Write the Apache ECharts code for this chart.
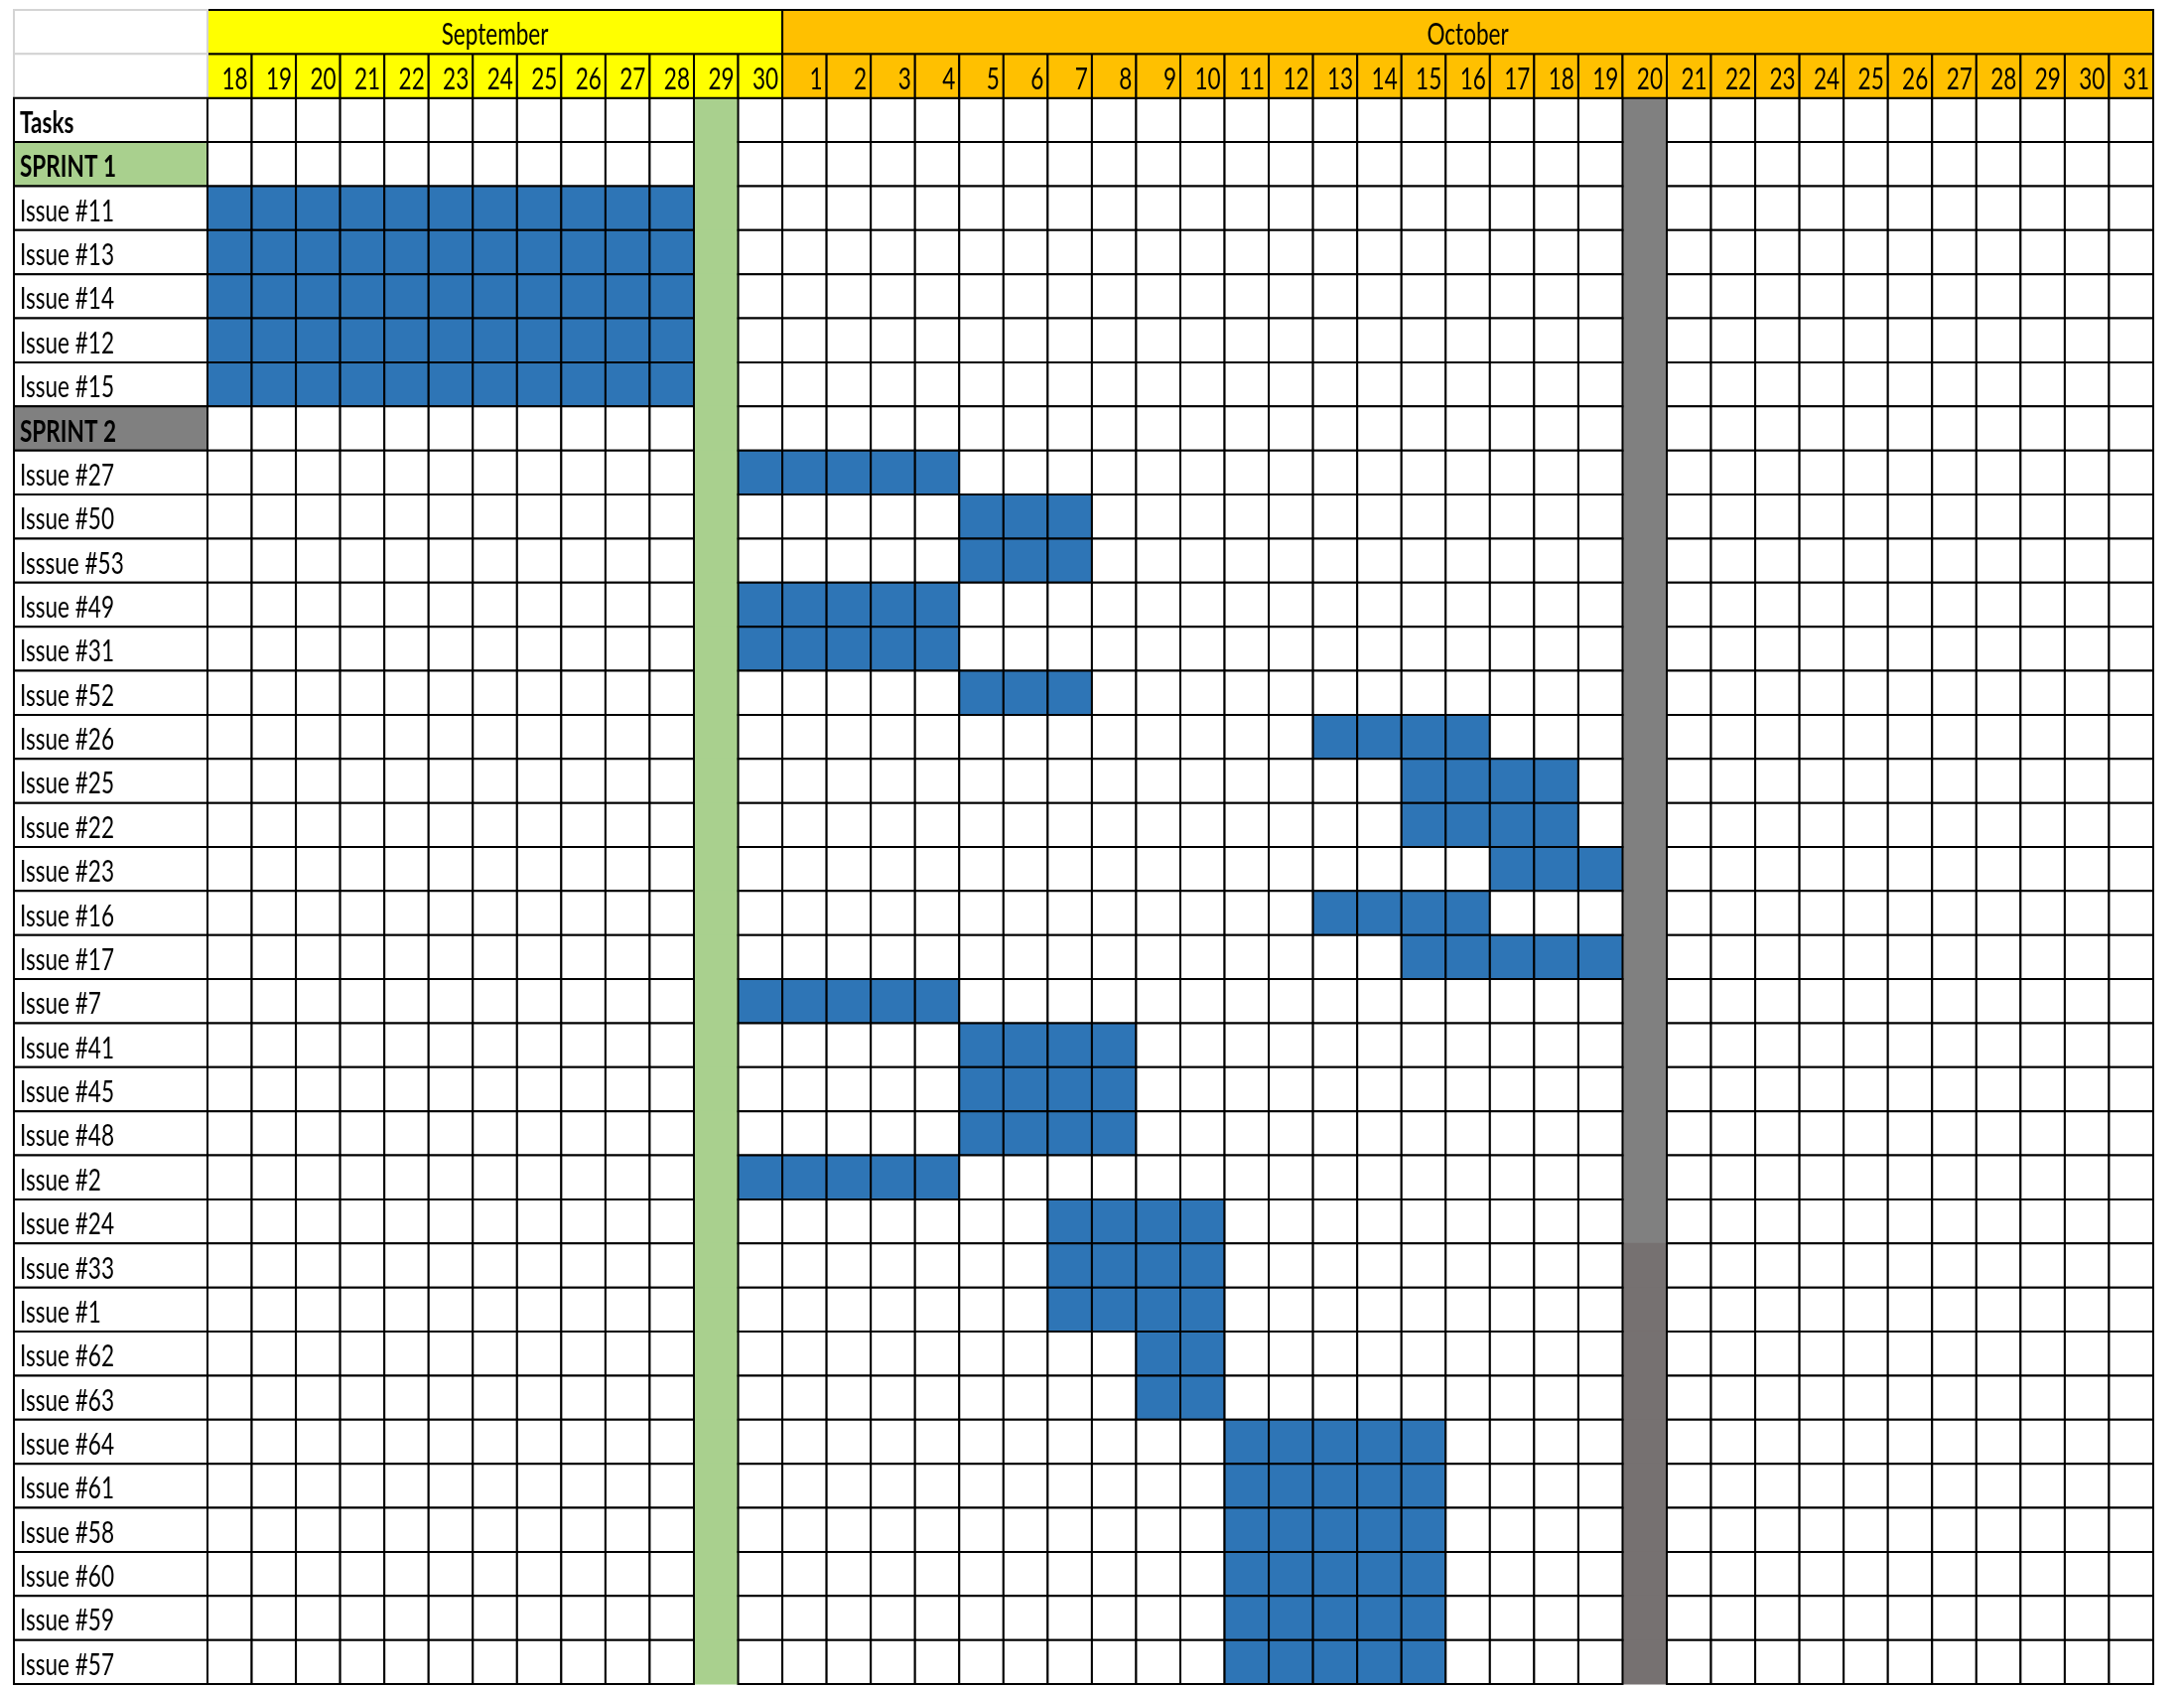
<!DOCTYPE html>
<html>
<head>
<meta charset="utf-8">
<script src="https://cdn.jsdelivr.net/npm/echarts@6/dist/echarts.min.js"></script>
<style>
html,body{margin:0;padding:0;background:#fff;}
#chart{width:2200px;height:1700px;}
</style>
</head>
<body>
<div id="chart"></div>
<script>
// ---------------- DATA ----------------
const monthNames = ['September', 'October'];
const monthDayCounts = [13, 31];

const dayKeys = [
  'Sep 18','Sep 19','Sep 20','Sep 21','Sep 22','Sep 23','Sep 24','Sep 25','Sep 26','Sep 27','Sep 28','Sep 29','Sep 30',
  'Oct 1','Oct 2','Oct 3','Oct 4','Oct 5','Oct 6','Oct 7','Oct 8','Oct 9','Oct 10','Oct 11','Oct 12','Oct 13','Oct 14',
  'Oct 15','Oct 16','Oct 17','Oct 18','Oct 19','Oct 20','Oct 21','Oct 22','Oct 23','Oct 24','Oct 25','Oct 26','Oct 27',
  'Oct 28','Oct 29','Oct 30','Oct 31'
];
const dayLabels = [
  '18','19','20','21','22','23','24','25','26','27','28','29','30',
  '1','2','3','4','5','6','7','8','9','10','11','12','13','14',
  '15','16','17','18','19','20','21','22','23','24','25','26','27',
  '28','29','30','31'
];

const rowLabels = [
  'Tasks','SPRINT 1','Issue #11','Issue #13','Issue #14','Issue #12','Issue #15',
  'SPRINT 2','Issue #27','Issue #50','Isssue #53','Issue #49','Issue #31','Issue #52',
  'Issue #26','Issue #25','Issue #22','Issue #23','Issue #16','Issue #17',
  'Issue #7','Issue #41','Issue #45','Issue #48','Issue #2',
  'Issue #24','Issue #33','Issue #1','Issue #62','Issue #63',
  'Issue #64','Issue #61','Issue #58','Issue #60','Issue #59','Issue #57'
];
const taskStart = [
  null, null, 'Sep 18','Sep 18','Sep 18','Sep 18','Sep 18',
  null, 'Sep 30','Oct 5','Oct 5','Sep 30','Sep 30','Oct 5',
  'Oct 13','Oct 15','Oct 15','Oct 17','Oct 13','Oct 15',
  'Sep 30','Oct 5','Oct 5','Oct 5','Sep 30',
  'Oct 7','Oct 7','Oct 7','Oct 9','Oct 9',
  'Oct 11','Oct 11','Oct 11','Oct 11','Oct 11','Oct 11'
];
const taskEnd = [
  null, null, 'Sep 28','Sep 28','Sep 28','Sep 28','Sep 28',
  null, 'Oct 4','Oct 7','Oct 7','Oct 4','Oct 4','Oct 7',
  'Oct 16','Oct 18','Oct 18','Oct 19','Oct 16','Oct 19',
  'Oct 4','Oct 8','Oct 8','Oct 8','Oct 4',
  'Oct 10','Oct 10','Oct 10','Oct 10','Oct 10',
  'Oct 15','Oct 15','Oct 15','Oct 15','Oct 15','Oct 15'
];
// highlighted (non-working) day columns
const breakDays = ['Sep 29', 'Oct 20'];

// ---------------- STYLE ----------------
const FONT = 'Lato, "Liberation Sans", sans-serif';
const FS = 31;
const monthColors = ['#FFFF00', '#FFC000'];
const breakColors = ['#A9D08E', '#808080'];
const breakColorsLower = ['#A9D08E', '#767171'];
const lowerShadeFromRow = 'Issue #33';
const taskColor = '#2E75B6';
const LW = 2;

// horizontal squeeze of the text so that it matches the narrow look of the original
const measureCtx = document.createElement('canvas').getContext('2d');
measureCtx.font = FS + 'px ' + FONT;
const SX = Math.min(1, 95 / measureCtx.measureText('Issue #11').width);

// ---------------- BUILD ----------------
const yCats = ['month', 'day'].concat(rowLabels);
const HEADER_ROWS = 2;
const colIdx = k => dayKeys.indexOf(k);
const monthOfCol = [];
monthDayCounts.forEach((n, m) => { for (let i = 0; i < n; i++) monthOfCol.push(m); });

const cellData = [], breakData = [];
rowLabels.forEach((lab, r) => {
  const s = taskStart[r] ? colIdx(taskStart[r]) : -1;
  const e = taskEnd[r] ? colIdx(taskEnd[r]) : -2;
  dayKeys.forEach((k, c) => {
    const bi = breakDays.indexOf(k);
    if (bi >= 0) breakData.push([c, r + HEADER_ROWS, bi, r]);
    else cellData.push([c, r + HEADER_ROWS, (c >= s && c <= e) ? 1 : 0]);
  });
});
const lowerRow = rowLabels.indexOf(lowerShadeFromRow);

const dayHeaderData = dayKeys.map((k, c) => [c, 1]);
const monthData = [];
let acc = 0;
monthNames.forEach((m, i) => { monthData.push([acc, acc + monthDayCounts[i] - 1, i]); acc += monthDayCounts[i]; });
const labelData = yCats.map((y, i) => [0, i]);

function cellRect(api, c, r) {
  const p = api.coord([c, r]);
  const s = api.size([1, 1]);
  return { x: p[0] - s[0] / 2, y: p[1] - s[1] / 2, width: s[0], height: s[1] };
}
function txt(str, x, y, align, bold) {
  return {
    type: 'text', x: x, y: y, scaleX: SX, scaleY: 1,
    style: { text: str, x: 0, y: 0, align: align, verticalAlign: 'middle',
      fontSize: FS, fontFamily: FONT, fontWeight: bold ? 'bold' : 'normal', fill: '#000' }
  };
}

const chart = echarts.init(document.getElementById('chart'), null, { renderer: 'canvas' });
const hiddenCat = (data, gridIndex, extra) => Object.assign({
  type: 'category', data: data, gridIndex: gridIndex, show: false,
  axisLine: { show: false }, axisTick: { show: false }, axisLabel: { show: false }, splitLine: { show: false }
}, extra || {});

chart.setOption({
  animation: false,
  backgroundColor: '#ffffff',
  grid: [
    { left: 209, right: 31, top: 10, bottom: 4 },
    { left: 14, width: 195, top: 10, bottom: 4 }
  ],
  xAxis: [hiddenCat(dayKeys, 0), hiddenCat(['label'], 1)],
  yAxis: [hiddenCat(yCats, 0, { inverse: true }), hiddenCat(yCats, 1, { inverse: true })],
  series: [
    { // break columns
      type: 'custom', xAxisIndex: 0, yAxisIndex: 0, z: 1, clip: false,
      encode: { x: 0, y: 1 }, data: breakData,
      renderItem: (params, api) => {
        const c = api.value(0), r = api.value(1), bi = api.value(2), br = api.value(3);
        const rc = cellRect(api, c, r);
        const col = br >= lowerRow ? breakColorsLower[bi] : breakColors[bi];
        return { type: 'rect', shape: { x: rc.x, y: rc.y - 0.5, width: rc.width, height: rc.height + 1 }, style: { fill: col } };
      }
    },
    { // body cells
      type: 'custom', xAxisIndex: 0, yAxisIndex: 0, z: 2, clip: false,
      encode: { x: 0, y: 1 }, data: cellData,
      renderItem: (params, api) => {
        const c = api.value(0), r = api.value(1), on = api.value(2);
        const rc = cellRect(api, c, r);
        return { type: 'rect', shape: rc, style: { fill: on ? taskColor : '#ffffff', stroke: '#000', lineWidth: LW } };
      }
    },
    { // day header
      type: 'custom', xAxisIndex: 0, yAxisIndex: 0, z: 3, clip: false,
      encode: { x: 0, y: 1 }, data: dayHeaderData,
      renderItem: (params, api) => {
        const c = api.value(0), r = api.value(1);
        const rc = cellRect(api, c, r);
        return { type: 'group', children: [
          { type: 'rect', shape: rc, style: { fill: monthColors[monthOfCol[c]], stroke: '#000', lineWidth: LW } },
          txt(dayLabels[c], rc.x + rc.width - 4, rc.y + rc.height / 2 + 3, 'right', false)
        ] };
      }
    },
    { // month header
      type: 'custom', xAxisIndex: 0, yAxisIndex: 0, z: 3, clip: false,
      encode: { x: [0, 1], y: 2 }, data: monthData,
      renderItem: (params, api) => {
        const a = api.value(0), b = api.value(1), m = api.value(2);
        const r1 = cellRect(api, a, 0), r2 = cellRect(api, b, 0);
        const rc = { x: r1.x, y: r1.y, width: r2.x + r2.width - r1.x, height: r1.height };
        return { type: 'group', children: [
          { type: 'rect', shape: rc, style: { fill: monthColors[m], stroke: '#000', lineWidth: LW } },
          txt(monthNames[m], rc.x + rc.width / 2, rc.y + rc.height / 2 + 3, 'center', false)
        ] };
      }
    },
    { // task label column
      type: 'custom', xAxisIndex: 1, yAxisIndex: 1, z: 3, clip: false,
      encode: { x: 0, y: 1 }, data: labelData,
      renderItem: (params, api) => {
        const r = api.value(1);
        const rc = cellRect(api, 0, r);
        if (r < HEADER_ROWS) {
          return { type: 'rect', shape: rc, style: { fill: '#ffffff', stroke: '#D4D4D4', lineWidth: LW } };
        }
        const lab = rowLabels[r - HEADER_ROWS];
        let fill = '#ffffff', bold = false;
        if (lab === 'Tasks') bold = true;
        if (lab === 'SPRINT 1') { fill = breakColors[0]; bold = true; }
        if (lab === 'SPRINT 2') { fill = breakColors[1]; bold = true; }
        return { type: 'group', children: [
          { type: 'rect', shape: rc, style: { fill: fill, stroke: '#000', lineWidth: LW } },
          txt(lab, rc.x + 6, rc.y + rc.height / 2 + 3, 'left', bold)
        ] };
      }
    }
  ]
});
</script>
</body>
</html>
